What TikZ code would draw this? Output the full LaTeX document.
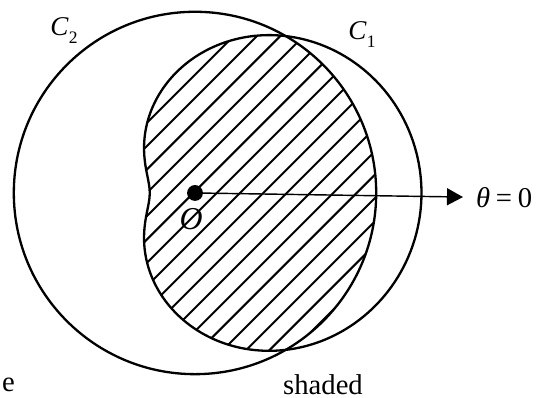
\documentclass[tikz,border=0pt]{standalone}
\usepackage{fontspec}
\setmainfont{Liberation Serif}
\usetikzlibrary{arrows.meta}
\begin{document}
\begin{tikzpicture}[x=1cm,y=1cm,
  curve/.style={line width=1.45pt},
  hatch/.style={line width=1.25pt},
  lbl/.style={inner sep=0pt, font=\fontsize{18}{20}\selectfont},
  clbl/.style={inner sep=0pt, font=\fontsize{17}{19}\selectfont},
]
\useasboundingbox (-4.305,-4.525) rectangle (7.638,4.260);
% hatching of the region inside both curves
\begin{scope}
  \clip (0,0) circle (4);
  \clip plot[variable=\t, domain=0:360, samples=240]
    ({(3+2*cos(\t))*cos(\t)},{(3+2*cos(\t))*sin(\t)}) -- cycle;
  \foreach \k in {-20,...,20} {
    \draw[hatch] ({0.479+0.515*\k-10},-10) -- ++(20,20);
  }
\end{scope}
% C2: circle
\draw[curve] (0,0) circle (4);
% C1: limacon
\draw[curve] plot[variable=\t, domain=0:360, samples=240]
    ({(3+2*cos(\t))*cos(\t)},{(3+2*cos(\t))*sin(\t)}) -- cycle;
% pole and initial line
\node[circle, fill, inner sep=0pt, minimum size=0.35cm] (O) at (0,0) {};
\coordinate (tip) at (5.916,-0.09);
\draw[line width=0.9pt, -{Triangle[length=0.353cm,width=0.375cm]}] (O.center) -- (tip);
% labels
\node[lbl, anchor=base west] (th) at (6.2,-0.33) {\textit{θ}\hspace{0.2em}=\hspace{0.2em}0};
\node[inner sep=0pt, font=\fontsize{20}{22}\selectfont\itshape] (Olab) at (-0.088,-0.574) {O};
\node[clbl] (c2) at (-2.892,3.576) {\textit{C}\raisebox{-0.3em}{\fontsize{11}{11}\selectfont 2}};
\node[clbl] (c1) at (3.687,3.488) {\textit{C}\raisebox{-0.3em}{\fontsize{11}{11}\selectfont 1}};
\node[lbl, anchor=base] (sh) at (2.826,-4.44) {shaded};
\node[lbl, anchor=base] (e) at (-4.12,-4.393) {e};
\end{tikzpicture}
\end{document}
